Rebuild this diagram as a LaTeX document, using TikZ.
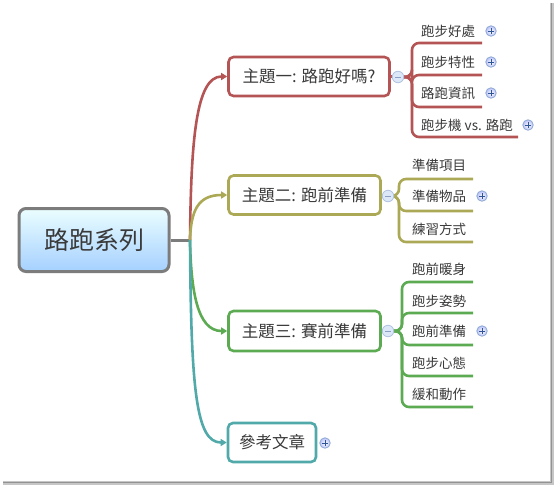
\documentclass[tikz,border=0pt]{standalone}
\usepackage{fontspec}
\setmainfont{Noto Sans CJK TC}
\usetikzlibrary{arrows.meta}
\definecolor{cred}{HTML}{B45454}
\definecolor{colive}{HTML}{ABA955}
\definecolor{cgreen}{HTML}{5CAA52}
\definecolor{cteal}{HTML}{52A9A9}
\definecolor{rootgray}{HTML}{7C7C7C}
\definecolor{txt}{HTML}{3A3A3A}
\definecolor{iconfill}{HTML}{DCE8F8}
\definecolor{iconborder}{HTML}{8FAAD3}
\definecolor{iconsign}{HTML}{2D5597}
\definecolor{minussign}{HTML}{8A9FC2}
\tikzset{
  topic/.style={draw, line width=2.6pt, rounded corners=5pt, fill=white,
    minimum height=39pt, inner sep=0pt, text=txt,
    font=\fontsize{16.5}{18}\selectfont},
  rootbox/.style={draw=rootgray, line width=3pt, rounded corners=7pt,
    top color=blue!5!cyan!8, bottom color={rgb,255:red,165;green,208;blue,255},
    minimum width=150pt, minimum height=63pt, inner sep=0pt, text=txt,
    font=\fontsize{25}{27}\selectfont},
  subtext/.style={anchor=west, inner sep=0pt, text=txt,
    font=\fontsize{13.5}{15}\selectfont},
  branch/.style={line width=2.6pt, -{Triangle[length=6pt,width=7pt]}},
  subline/.style={line width=2.6pt, rounded corners=7pt},
  plusicon/.style={circle, draw=iconborder, line width=0.8pt, inner color=white, outer color=iconfill!80!blue!90,
    minimum size=10.5pt, inner sep=0pt,
    path picture={\draw[iconsign, line width=1pt]
      ([xshift=-2.8pt]path picture bounding box.center) -- ([xshift=2.8pt]path picture bounding box.center)
      ([yshift=-2.8pt]path picture bounding box.center) -- ([yshift=2.8pt]path picture bounding box.center);}},
  minusicon/.style={circle, draw=iconborder!70, line width=0.8pt, fill=iconfill,
    minimum size=11.5pt, inner sep=0pt,
    path picture={\draw[minussign, line width=1pt]
      ([xshift=-2.8pt]path picture bounding box.center) -- ([xshift=2.8pt]path picture bounding box.center);}}
}
\begin{document}
\begin{tikzpicture}[x=1pt,y=-1pt]
\useasboundingbox (0,0) rectangle (554,485);
\fill[white] (0,0) rectangle (554,485);
% frame shadow
\fill[gray!45] (549.5,3) rectangle (554,485);
\fill[gray!45] (3,480.5) rectangle (554,485);
\fill[gray!85] (550.5,3) rectangle (552,482);
\fill[gray!85] (3,481.5) rectangle (552,483);

% root
\node[rootbox] (root) at (94,240) {路跑系列};
\coordinate (hub) at (190,240);
\draw[rootgray, line width=3pt] (root.east) -- (hub);

% topics
\node[topic, draw=cred, minimum width=161pt] (t1) at (309,76.5) {主題一: 路跑好嗎?};
\node[topic, draw=colive, minimum width=152pt] (t2) at (304.5,195) {主題二: 跑前準備};
\node[topic, draw=cgreen, minimum width=152pt, minimum height=40pt] (t3) at (304.5,331) {主題三: 賽前準備};
\node[topic, draw=cteal, minimum width=88pt] (t4) at (272,442.5) {參考文章};

\draw[branch, cred] (hub) .. controls (191,140) and (196,76.5) .. (t1.west);
\draw[branch, colive] (hub) .. controls (191,212) and (197,195) .. (t2.west);
\draw[branch, cgreen] (hub) .. controls (191,290) and (197,331) .. (t3.west);
\draw[branch, cteal] (hub) .. controls (191,390) and (196,442.5) .. (t4.west);

% topic 1 subtopics
\coordinate (b1) at (412,77);
\coordinate (u11) at (482,43);
\coordinate (u12) at (482,75);
\coordinate (u13) at (482,107);
\coordinate (u14) at (518,137);
\draw[cred, line width=2.6pt] (t1.east) -- (398,76.5);
\foreach \u in {u11,u12,u13,u14}
  \draw[subline, cred] (398,77) -| (b1 |- \u) -- (\u);
\node[minusicon] (c1) at (398,77) {};
\node[subtext] (s11) at (421,31) {跑步好處};
\node[subtext] (s12) at (421,62) {跑步特性};
\node[subtext] (s13) at (421,93) {路跑資訊};
\node[subtext] (s14) at (421,125) {跑步機 vs. 路跑};
\node[plusicon] (p11) at (491,31) {};
\node[plusicon] (p12) at (491,62) {};
\node[plusicon] (p13) at (491,93) {};
\node[plusicon] (p14) at (528,125) {};

% topic 2 subtopics
\coordinate (b2) at (399,196);
\coordinate (u21) at (473,179);
\coordinate (u22) at (473,211);
\coordinate (u23) at (473,242);
\draw[colive, line width=2.6pt] (t2.east) -- (388,195);
\foreach \u in {u21,u22,u23}
  \draw[subline, colive] (388,196) -| (b2 |- \u) -- (\u);
\node[minusicon] (c2) at (388,196) {};
\node[subtext] (s21) at (412,165) {準備項目};
\node[subtext] (s22) at (412,196) {準備物品};
\node[subtext] (s23) at (412,229) {練習方式};
\node[plusicon] (p22) at (482,196) {};

% topic 3 subtopics
\coordinate (b3) at (402,331);
\coordinate (u31) at (473,282);
\coordinate (u32) at (473,313);
\coordinate (u33) at (473,345);
\coordinate (u34) at (473,376);
\coordinate (u35) at (473,407);
\draw[cgreen, line width=2.6pt] (t3.east) -- (388,331);
\foreach \u in {u31,u32,u33,u34,u35}
  \draw[subline, cgreen] (388,331) -| (b3 |- \u) -- (\u);
\node[minusicon] (c3) at (388,331) {};
\node[subtext] (s31) at (412,269) {跑前暖身};
\node[subtext] (s32) at (412,301) {跑步姿勢};
\node[subtext] (s33) at (412,331) {跑前準備};
\node[subtext] (s34) at (412,363) {跑步心態};
\node[subtext] (s35) at (412,394) {緩和動作};
\node[plusicon] (p33) at (482,331) {};

% topic 4
\node[plusicon] (p4) at (325,443) {};
\end{tikzpicture}
\end{document}
